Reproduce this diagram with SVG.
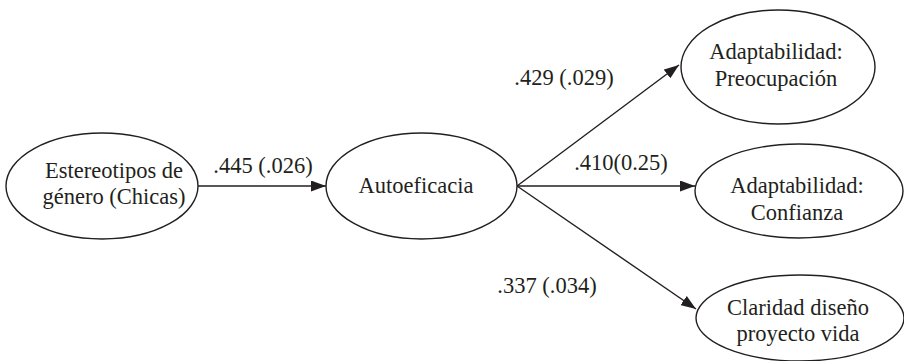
<svg xmlns="http://www.w3.org/2000/svg" width="904" height="361" viewBox="0 0 904 361">
<defs>
<style>
.n{fill:#fff;stroke:#231f20;stroke-width:1.4}
.t{font-size:22.5px;fill:#231f20;text-anchor:middle}
.c{stroke:#231f20;stroke-width:1.4;fill:none;marker-end:url(#ah)}
</style>
<marker id="ah" viewBox="0 0 15 11" refX="15" refY="5.5" markerWidth="15" markerHeight="11" markerUnits="userSpaceOnUse" orient="auto">
<path d="M0,0 L15,5.5 L0,11 Z" fill="#231f20"/>
</marker>
</defs>
<rect width="904" height="361" fill="#fff"/>
<g font-family="'Liberation Serif', 'Times New Roman', 'DejaVu Serif', serif">
<g id="connectors">
<line class="c" x1="198" y1="186" x2="326" y2="186"/>
<line class="c" x1="517" y1="186" x2="679" y2="65"/>
<line class="c" x1="517" y1="186" x2="695" y2="186"/>
<line class="c" x1="517" y1="186" x2="696" y2="309"/>
<text class="t" x="263" y="173">.445 (.026)</text>
<text class="t" x="564" y="85">.429 (.029)</text>
<text class="t" x="621" y="170">.410(0.25)</text>
<text class="t" x="547" y="293">.337 (.034)</text>
</g>
<g id="estereotipos">
<ellipse class="n" cx="102" cy="186" rx="96" ry="53"/>
<text class="t" x="114" y="178">Estereotipos de</text>
<text class="t" x="114" y="204">género (Chicas)</text>
</g>
<g id="autoeficacia">
<ellipse class="n" cx="421.5" cy="186" rx="95.5" ry="53"/>
<text class="t" x="416" y="193">Autoeficacia</text>
</g>
<g id="preocupacion">
<ellipse class="n" cx="778" cy="67" rx="97" ry="57"/>
<text class="t" x="776" y="59">Adaptabilidad:</text>
<text class="t" x="776" y="86">Preocupación</text>
</g>
<g id="confianza">
<ellipse class="n" cx="799" cy="191" rx="104" ry="47"/>
<text class="t" x="797" y="193">Adaptabilidad:</text>
<text class="t" x="797" y="220">Confianza</text>
</g>
<g id="claridad">
<ellipse class="n" cx="800" cy="318" rx="104" ry="43"/>
<text class="t" x="798" y="315">Claridad diseño</text>
<text class="t" x="798" y="341">proyecto vida</text>
</g>
</g>
</svg>
